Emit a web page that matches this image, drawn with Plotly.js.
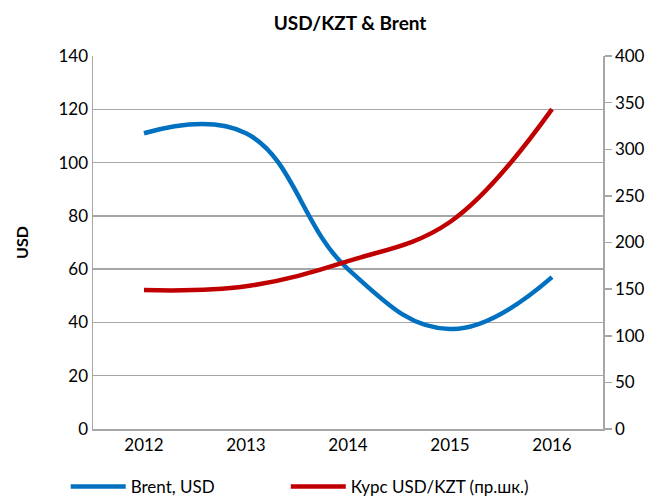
<!DOCTYPE html>
<html><head><meta charset="utf-8">
<script src="https://cdn.plot.ly/plotly-3.0.1.min.js"></script>
<style>html,body{margin:0;padding:0;background:#fff}#chart{width:657px;height:497px}</style>
</head><body><div id="chart"></div>
<script>
var years = ['2012','2013','2014','2015','2016'];
var brent = [111, 111, 60, 37.5, 57];
var kzt = [149, 153, 180, 222, 343];
var brentName = 'Brent, USD';
var kztName = 'Курс USD/KZT (пр.шк.)';

var FONT = 'Lato, "Open Sans", sans-serif';
var GRID = '#a6a6a6';

var data = [
  {x: years, y: brent, name: brentName, type: 'scatter', mode: 'lines', legend: 'legend',
   line: {color: '#0070C0', width: 4.5, shape: 'spline', smoothing: 1.2}, yaxis: 'y'},
  {x: years, y: kzt, name: kztName, type: 'scatter', mode: 'lines', legend: 'legend2',
   line: {color: '#C00000', width: 4.5, shape: 'spline', smoothing: 1.1}, yaxis: 'y2'}
];

var legendBase = {orientation: 'h', xref: 'container', yref: 'container', xanchor: 'left',
                  y: 0.02, yanchor: 'middle', font: {family: FONT, size: 17},
                  itemwidth: 55, bgcolor: 'rgba(0,0,0,0)'};

var layout = {
  width: 657, height: 497,
  margin: {l: 93, r: 54, t: 56, b: 68, autoexpand: false},
  paper_bgcolor: '#fff', plot_bgcolor: '#fff',
  font: {family: FONT, size: 17, color: '#000'},
  title: {text: '<b>USD/KZT & Brent</b>', font: {family: FONT, size: 19, color: '#000'},
          x: 0.504, xanchor: 'center', xref: 'paper', y: 0.953, yanchor: 'middle'},
  showlegend: true,
  legend: Object.assign({}, legendBase, {x: 0.1}),
  legend2: Object.assign({}, legendBase, {x: 0.435}),
  xaxis: {type: 'category', range: [-0.5, 4.5], showgrid: false, showline: true,
          linecolor: GRID, linewidth: 1.5, ticks: '', zeroline: false,
          tickfont: {family: FONT, size: 17}, fixedrange: true},
  yaxis: {range: [0, 140], dtick: 20, showgrid: true, gridcolor: GRID, gridwidth: 1.5,
          showline: true, linecolor: GRID, linewidth: 1.5, ticks: '', zeroline: false,
          tickfont: {family: FONT, size: 17},
          title: {text: '<b>USD</b>', font: {family: FONT, size: 16}, standoff: 26}},
  yaxis2: {range: [0, 400], dtick: 50, overlaying: 'y', side: 'right', showgrid: false,
           showline: true, linecolor: GRID, linewidth: 1.5, ticks: 'outside', ticklen: 7,
           tickcolor: GRID, tickwidth: 1.5, zeroline: false, tickfont: {family: FONT, size: 17}}
};

Plotly.newPlot('chart', data, layout, {displayModeBar: false, staticPlot: true});
</script></body></html>
